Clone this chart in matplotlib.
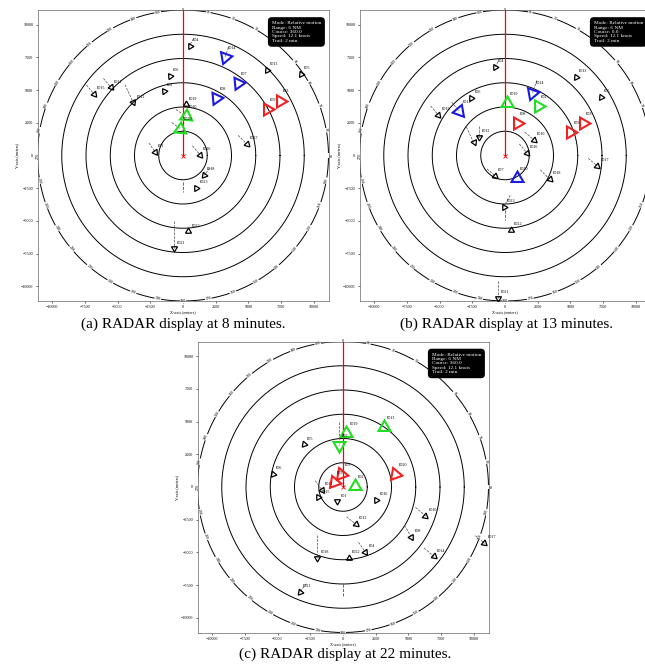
import numpy as np
import matplotlib.pyplot as plt

plt.rcParams['font.family'] = ['Liberation Serif', 'DejaVu Serif']

NM = 1852.0
RANGE_NM = 6

# ----------------------------------------------------------------------
# targets read off the three radar screens (x, y in km, relative course
# in degrees, trail length in km, colour class)
# ----------------------------------------------------------------------

# (a) 8 minutes
a_ids = ['ID4', 'ID14', 'ID13', 'ID5', 'ID6', 'ID2', 'ID7', 'ID8', 'ID9', 'ID3',
         'ID19', 'ID10', 'ID20', 'ID11', 'ID15', 'ID12', 'ID17', 'ID1', 'ID16',
         'ID18', 'ID23', 'ID22', 'ID21']
a_x = [0.5, 3.2, 6.4, 9.0, -1.0, -1.45, 4.2, 2.55, 6.4, 7.4,
       0.2, 0.2, -0.2, -5.5, -6.8, -3.8, 4.85, -2.15, 1.3,
       1.6, 1.0, 0.4, -0.7]
a_y = [8.4, 7.5, 6.55, 6.2, 6.1, 4.9, 5.55, 4.4, 3.55, 4.2,
       3.9, 3.0, 2.05, 5.2, 4.7, 4.05, 0.9, 0.3, 0.05,
       -1.5, -2.5, -5.8, -7.1]
a_course = [210, 200, 215, 215, 205, 205, 205, 205, 210, 210,
            0, 125, 125, 140, 140, 155, 135, 145, 140,
            220, 210, 0, 180]
a_trail = [0.6, 0.8, 0.0, 0.0, 0.0, 0.0, 0.0, 0.0, 0.0, 0.0,
           0.0, 0.9, 0.8, 0.9, 0.9, 1.5, 0.9, 0.8, 0.9,
           0.7, 0.0, 0.0, 2.1]
a_risk = ['k', 'b', 'k', 'k', 'k', 'k', 'b', 'b', 'r', 'r',
          'k', 'g', 'g', 'k', 'k', 'k', 'k', 'k', 'k',
          'k', 'k', 'k', 'k']
a_wake = [-2.0, -2.8]

# (b) 13 minutes
b_ids = ['ID4', 'ID13', 'ID5', 'ID14', 'ID19', 'ID2', 'ID6', 'ID11', 'ID15', 'ID8',
         'ID9', 'ID3', 'ID12', 'ID1', 'ID10', 'ID16', 'ID17', 'ID7', 'ID20',
         'ID18', 'ID23', 'ID22', 'ID21']
b_x = [-0.77, 5.4, 7.3, 2.1, 0.13, 2.5, -2.56, -3.5, -5.1, 0.9,
       5.0, 5.95, -2.0, -2.4, 2.2, 1.67, 7.05, -0.77, 0.92,
       3.4, -0.1, 0.46, -0.56]
b_y = [6.74, 6.0, 4.5, 4.8, 4.0, 3.8, 4.4, 3.4, 3.1, 2.46,
       1.8, 2.5, 1.4, 1.0, 1.2, 0.2, -0.8, -1.54, -1.72,
       -1.8, -3.9, -5.7, -10.9]
b_course = [210, 215, 215, 200, 0, 210, 210, 140, 140, 210,
            210, 210, 180, 155, 130, 140, 130, 130, 0,
            135, 210, 0, 180]
b_trail = [0.5, 0.0, 0.0, 1.0, 0.0, 0.0, 0.0, 0.9, 0.9, 0.0,
           0.0, 0.0, 0.85, 1.3, 0.9, 0.9, 0.9, 0.8, 0.0,
           1.0, 1.0, 0.0, 1.3]
b_risk = ['k', 'k', 'k', 'b', 'g', 'g', 'k', 'b', 'k', 'r',
          'r', 'r', 'k', 'k', 'k', 'k', 'k', 'k', 'b',
          'k', 'k', 'k', 'k']
b_wake = [-4.15, -4.9]

# (c) 22 minutes
c_ids = ['ID19', 'ID7', 'ID13', 'ID5', 'ID6', 'ID3', 'ID9', 'ID20', 'ID2', 'ID11',
         'ID15', 'ID1', 'ID16', 'ID10', 'ID12', 'ID8', 'ID14', 'ID17', 'ID18',
         'ID22', 'ID4', 'ID21']
c_x = [0.25, -0.33, 3.1, -3.0, -5.35, -0.13, -0.7, 4.0, 0.9, -1.6,
       -1.9, -0.43, 2.55, 6.3, 0.97, 5.2, 6.95, 10.8, -1.96,
       0.43, 1.7, -3.3]
c_y = [4.1, 3.2, 4.6, 3.25, 1.0, 1.0, 0.4, 0.97, 0.05, -0.25,
       -0.8, -1.1, -0.97, -2.2, -2.85, -3.8, -5.3, -4.3, -5.4,
       -5.4, -4.96, -8.0]
c_course = [0, 180, 240, 220, 220, 220, 220, 220, 0, 145,
            210, 180, 210, 130, 130, 150, 130, 130, 180,
            0, 145, 220]
c_trail = [0.0, 1.8, 0.0, 0.0, 0.0, 0.0, 0.0, 0.0, 0.0, 0.9,
           0.0, 0.0, 0.0, 1.0, 0.9, 1.0, 1.0, 0.9, 1.7,
           0.0, 0.9, 0.8]
c_risk = ['g', 'g', 'g', 'k', 'k', 'r', 'r', 'r', 'g', 'k',
          'k', 'k', 'k', 'k', 'k', 'k', 'k', 'k', 'k',
          'k', 'k', 'k']
c_wake = [-7.4, -8.3]

minutes = [8, 13, 22]
courses = ['360.0', '0.0', '360.0']
speed_kn = 12.1
trail_min = 2

colours = {'k': 'black', 'b': '#1a1ae0', 'g': '#22dd22', 'r': '#ee2222'}


def draw_radar(ax, ids, xs, ys, crs, trails, risk, wake, course_txt):
    R = RANGE_NM * NM
    th = np.linspace(0, 2 * np.pi, 400)
    for k in range(1, RANGE_NM + 1):
        ax.plot(k * NM * np.cos(th), k * NM * np.sin(th), color='black', lw=0.7, zorder=1)
    # bearing labels round the outer ring
    for b in range(0, 360, 10):
        r = np.radians(b)
        rot = -b if (b <= 90 or b >= 270) else 180 - b
        ax.text(R * np.sin(r), R * np.cos(r), str(b), fontsize=3, ha='center', va='center',
                rotation=rot, zorder=2,
                bbox=dict(fc='white', ec='none', pad=0.2))
    # heading line and own ship
    ax.plot([0, 0], [0, R], color='red', lw=0.9, zorder=3)
    ax.plot(0, 0, marker='x', color='red', ms=2.5, mew=0.6, zorder=4)
    ax.plot([0, 0], [wake[0] * 1000, wake[1] * 1000], color='0.3', lw=0.6, ls='--', zorder=2)

    for i in range(len(ids)):
        x = xs[i] * 1000
        y = ys[i] * 1000
        c = np.radians(crs[i])
        col = colours[risk[i]]
        big = risk[i] != 'k'
        if trails[i] > 0:
            L = trails[i] * 1000
            ax.plot([x - L * np.sin(c), x], [y - L * np.cos(c), y],
                    color='0.3', lw=0.5, ls='--', zorder=2)
        ax.plot(x, y, marker=(3, 0, -crs[i]), ms=10 if big else 5,
                mfc='none', mec=col, mew=1.5 if big else 0.9, zorder=5)
        off = 700 if big else 450
        ax.text(x + 250, y + off, ids[i], fontsize=3, ha='left', va='center', zorder=6)

    info = ('Mode: Relative motion\nRange: %d NM\nCourse: %s\nSpeed: %.1f knots\nTrail: %d min'
            % (RANGE_NM, course_txt, speed_kn, trail_min))
    ax.text(0.805, 0.962, info, transform=ax.transAxes, ha='left', va='top',
            multialignment='left', color='white', fontsize=3.8, linespacing=1.15, zorder=7,
            bbox=dict(boxstyle='round,pad=0.6', fc='black', ec='black'))

    ax.set_xlim(-R, R)
    ax.set_ylim(-R, R)
    ticks = [-10000, -7500, -5000, -2500, 0, 2500, 5000, 7500, 10000]
    ax.set_xticks(ticks)
    ax.set_yticks(ticks)
    ax.tick_params(labelsize=3, length=1.5, width=0.4, pad=1.5)
    ax.set_xlabel('X-axis (meters)', fontsize=3, labelpad=1)
    ax.set_ylabel('Y-axis (meters)', fontsize=3, labelpad=1)
    for s in ax.spines.values():
        s.set_linewidth(0.5)
        s.set_color('0.4')


fig = plt.figure(figsize=(6.45, 6.70), dpi=100)

W = 645.0
H = 670.0
size = 291.0
ax_a = fig.add_axes([37.5 / W, (H - 301) / H, size / W, size / H])
ax_b = fig.add_axes([359.5 / W, (H - 301) / H, size / W, size / H])
ax_c = fig.add_axes([197.5 / W, (H - 632.5) / H, size / W, size / H])

draw_radar(ax_a, a_ids, a_x, a_y, a_course, a_trail, a_risk, a_wake, courses[0])
draw_radar(ax_b, b_ids, b_x, b_y, b_course, b_trail, b_risk, b_wake, courses[1])
draw_radar(ax_c, c_ids, c_x, c_y, c_course, c_trail, c_risk, c_wake, courses[2])

fig.text(183 / W, 1 - 324 / H, '(a) RADAR display at %d minutes.' % minutes[0],
         ha='center', va='center', fontsize=11)
fig.text(507 / W, 1 - 324 / H, '(b) RADAR display at %d minutes.' % minutes[1],
         ha='center', va='center', fontsize=11)
fig.text(345 / W, 1 - 654 / H, '(c) RADAR display at %d minutes.' % minutes[2],
         ha='center', va='center', fontsize=11)

fig.savefig('out.png', dpi=100)
